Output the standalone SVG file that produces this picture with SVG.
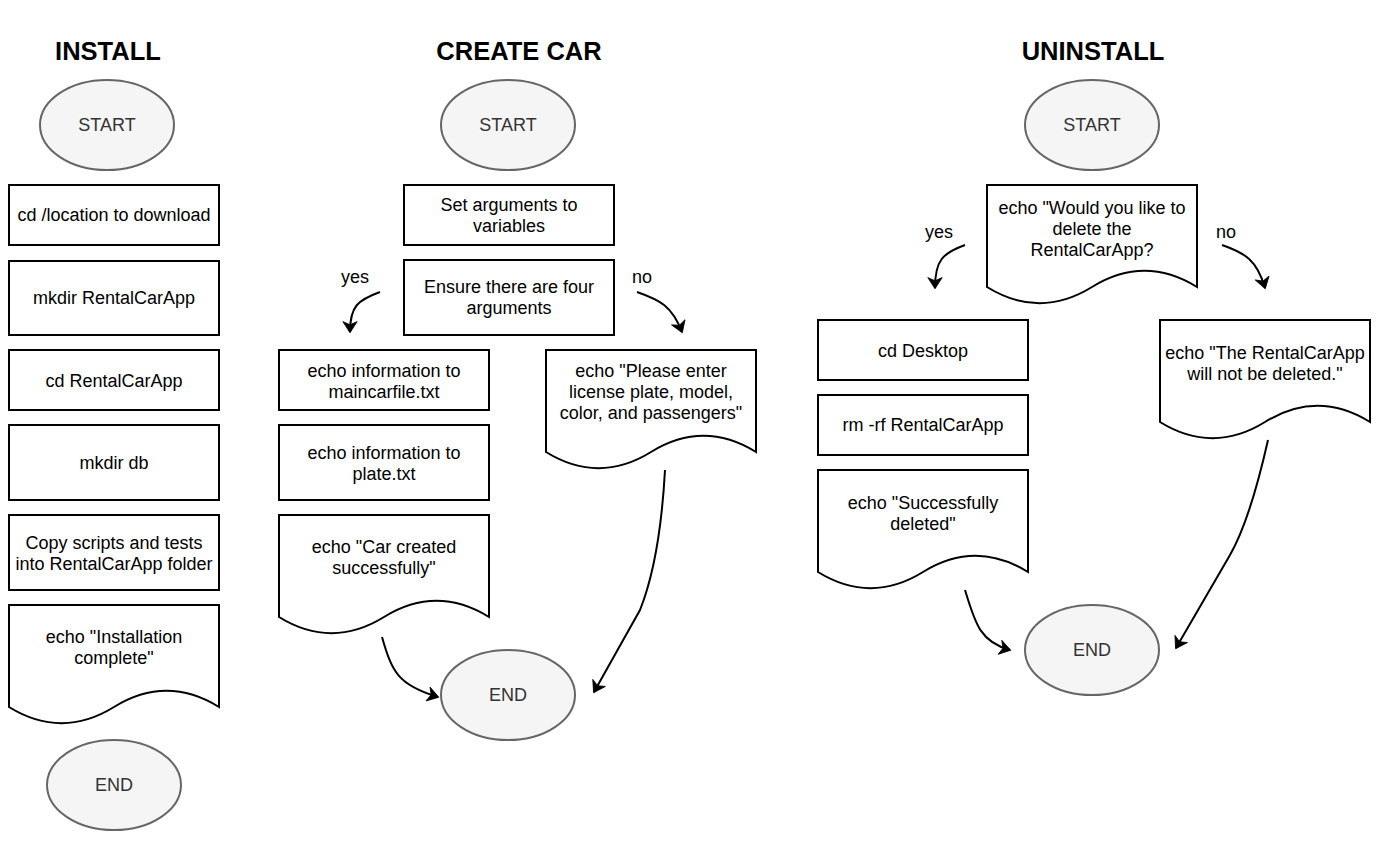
<svg xmlns="http://www.w3.org/2000/svg" width="1378" height="846" viewBox="0 0 1378 846">
<defs>
<style>
.t{font-family:"Liberation Sans",Arial,Helvetica,sans-serif;font-size:18px;fill:#000;text-anchor:middle}
.h{font-family:"Liberation Sans",Arial,Helvetica,sans-serif;font-size:25.5px;font-weight:bold;fill:#000;text-anchor:middle}
.et{font-family:"Liberation Sans",Arial,Helvetica,sans-serif;font-size:18px;fill:#333;text-anchor:middle}
.box{fill:#fff;stroke:#000;stroke-width:2}
.ell{fill:#f5f5f5;stroke:#666;stroke-width:2}
.edge{fill:none;stroke:#000;stroke-width:2}
</style>
<marker id="arr" viewBox="0 0 10 10" refX="9" refY="5" markerWidth="8" markerHeight="8" markerUnits="userSpaceOnUse" orient="auto" overflow="visible">
<path d="M-4,-4 L10,5 L-4,14 L0,5 Z" fill="#000" stroke="#000" stroke-width="1"/>
</marker>
</defs>
<rect width="1378" height="846" fill="#fff"/>
<text class="h" x="108" y="60">INSTALL</text>
<text class="h" x="519" y="60">CREATE CAR</text>
<text class="h" x="1093" y="60">UNINSTALL</text>

<!-- INSTALL -->
<g id="i-start"><ellipse class="ell" cx="107" cy="125" rx="67" ry="45"/><text class="et" x="107" y="131">START</text></g>
<g id="i-cd"><rect class="box" x="9" y="185" width="210" height="60"/><text class="t" x="114" y="221">cd /location to download</text></g>
<g id="i-mkdir"><rect class="box" x="9" y="261" width="210" height="74"/><text class="t" x="114" y="304">mkdir RentalCarApp</text></g>
<g id="i-cd2"><rect class="box" x="9" y="350" width="210" height="60"/><text class="t" x="114" y="387">cd RentalCarApp</text></g>
<g id="i-db"><rect class="box" x="9" y="425" width="210" height="75"/><text class="t" x="114" y="469">mkdir db</text></g>
<g id="i-copy"><rect class="box" x="9" y="515" width="210" height="75"/><text class="t" x="114" y="549">Copy scripts and tests</text><text class="t" x="114" y="570">into RentalCarApp folder</text></g>
<g id="i-echo"><path class="box" d="M9,605 L219,605 L219,707 Q166.5,674.6 114,707 Q61.5,739.4 9,707 Z"/><text class="t" x="114" y="643">echo "Installation</text><text class="t" x="114" y="664">complete"</text></g>
<g id="i-end"><ellipse class="ell" cx="114" cy="785" rx="67" ry="45"/><text class="et" x="114" y="791">END</text></g>

<!-- CREATE CAR -->
<g id="c-start"><ellipse class="ell" cx="508" cy="125" rx="67" ry="45"/><text class="et" x="508" y="131">START</text></g>
<g id="c-set"><rect class="box" x="404" y="185" width="210" height="60"/><text class="t" x="509" y="211">Set arguments to</text><text class="t" x="509" y="232">variables</text></g>
<g id="c-ensure"><rect class="box" x="404" y="260" width="210" height="75"/><text class="t" x="509" y="293">Ensure there are four</text><text class="t" x="509" y="314">arguments</text></g>
<g id="c-main"><rect class="box" x="279" y="350" width="210" height="60"/><text class="t" x="384" y="377">echo information to</text><text class="t" x="384" y="398">maincarfile.txt</text></g>
<g id="c-plate"><rect class="box" x="279" y="425" width="210" height="75"/><text class="t" x="384" y="459">echo information to</text><text class="t" x="384" y="480">plate.txt</text></g>
<g id="c-created"><path class="box" d="M279,515 L489,515 L489,617 Q436.5,584.6 384,617 Q331.5,649.4 279,617 Z"/><text class="t" x="384" y="553">echo "Car created</text><text class="t" x="384" y="574">successfully"</text></g>
<g id="c-please"><path class="box" d="M546,350 L756,350 L756,452 Q703.5,419.6 651,452 Q598.5,484.4 546,452 Z"/><text class="t" x="651" y="377">echo "Please enter</text><text class="t" x="651" y="398">license plate, model,</text><text class="t" x="651" y="419">color, and passengers"</text></g>
<g id="c-end"><ellipse class="ell" cx="508" cy="695" rx="67" ry="45"/><text class="et" x="508" y="701">END</text></g>

<!-- UNINSTALL -->
<g id="u-start"><ellipse class="ell" cx="1092" cy="125" rx="67" ry="45"/><text class="et" x="1092" y="131">START</text></g>
<g id="u-ask"><path class="box" d="M987,185 L1197,185 L1197,287 Q1144.5,254.6 1092,287 Q1039.5,319.4 987,287 Z"/><text class="t" x="1092" y="214">echo "Would you like to</text><text class="t" x="1092" y="235">delete the</text><text class="t" x="1092" y="256">RentalCarApp?</text></g>
<g id="u-cd"><rect class="box" x="818" y="320" width="210" height="60"/><text class="t" x="923" y="357">cd Desktop</text></g>
<g id="u-rm"><rect class="box" x="818" y="395" width="210" height="60"/><text class="t" x="923" y="431">rm -rf RentalCarApp</text></g>
<g id="u-succ"><path class="box" d="M818,470 L1028,470 L1028,572 Q975.5,539.6 923,572 Q870.5,604.4 818,572 Z"/><text class="t" x="923" y="509">echo "Successfully</text><text class="t" x="923" y="530">deleted"</text></g>
<g id="u-not"><path class="box" d="M1160,320 L1370,320 L1370,422 Q1317.5,389.6 1265,422 Q1212.5,454.4 1160,422 Z"/><text class="t" x="1265" y="359">echo "The RentalCarApp</text><text class="t" x="1265" y="380">will not be deleted."</text></g>
<g id="u-end"><ellipse class="ell" cx="1092" cy="650" rx="67" ry="45"/><text class="et" x="1092" y="656">END</text></g>

<!-- connectors -->
<g id="connectors">
<path class="edge" marker-end="url(#arr)" d="M380,292 C358,300 350,306 350,332"/>
<path class="edge" marker-end="url(#arr)" d="M637,292 C660,300 672,306 682,332"/>
<path class="edge" marker-end="url(#arr)" d="M382,637 C392,672 398,685 438,697"/>
<path class="edge" marker-end="url(#arr)" d="M665,470 Q660,560 640,610 L594,692"/>
<path class="edge" marker-end="url(#arr)" d="M965,245 C943,253 935,260 935,288"/>
<path class="edge" marker-end="url(#arr)" d="M1222,245 C1245,253 1257,260 1265,288"/>
<path class="edge" marker-end="url(#arr)" d="M965,590 C975,623 980,642 1010,650"/>
<path class="edge" marker-end="url(#arr)" d="M1268,440 Q1250,520 1230,555 L1176,648"/>
<text class="t" x="355" y="283">yes</text>
<text class="t" x="642" y="283">no</text>
<text class="t" x="939" y="238">yes</text>
<text class="t" x="1226" y="238">no</text>
</g>
</svg>
